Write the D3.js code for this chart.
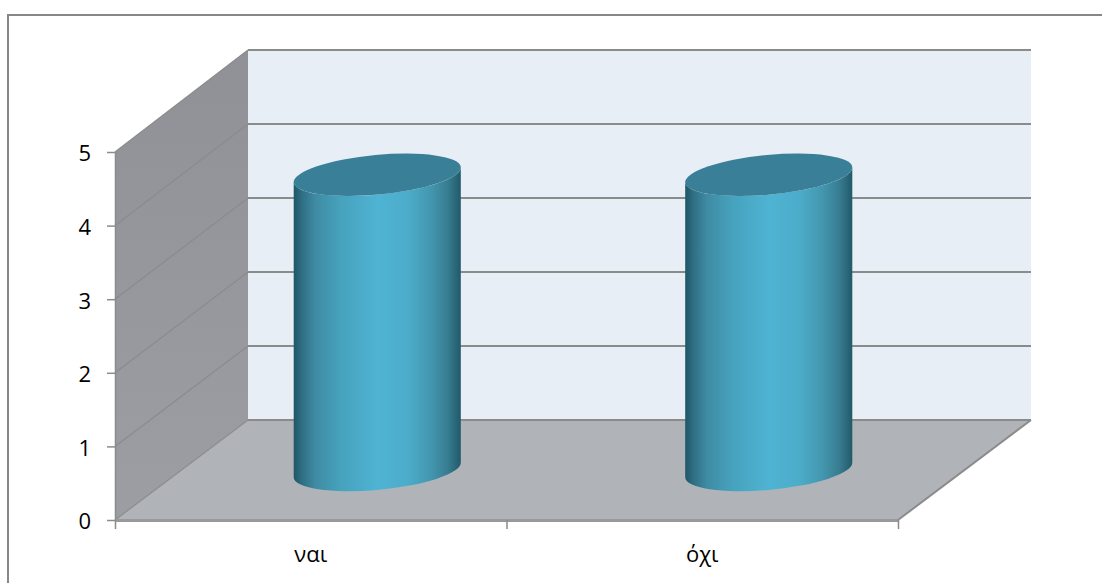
<!DOCTYPE html>
<html>
<head>
<meta charset="utf-8">
<script src="https://cdnjs.cloudflare.com/ajax/libs/d3/7.8.5/d3.min.js"></script>
<style>
  html, body { margin: 0; padding: 0; background: #fff; overflow: hidden; }
  text { font-family: "Open Sans", sans-serif; fill: #000; }
</style>
</head>
<body>
<script>
// Survey answers shown as 3D-style cylinders
const categories = ["ναι", "όχι"];
const counts = [4, 4];
const yTicks = [0, 1, 2, 3, 4, 5];

const width = 1102, height = 583;
const svg = d3.select("body").append("svg").attr("width", width).attr("height", height);

// Front plane scales, plus a back-wall scale for the receding box
const x = d3.scaleBand().domain(categories).range([115, 898]);
const xEdges = d3.scaleLinear().domain([0, categories.length]).range([115, 898]);
const yFront = d3.scaleLinear().domain([0, 5]).range([520, 152]);
const yBack = d3.scaleLinear().domain([0, 5]).range([420, 50]);
const depthX = 133;
// Bars stand halfway between the front plane and the back wall
const yMid = v => (yFront(v) + yBack(v)) / 2;
const barW = x.bandwidth() * 0.427;

const line = "#8b8b8b";
const defs = svg.append("defs");

const sideFill = defs.append("linearGradient").attr("id", "sideWall")
  .attr("x1", 0).attr("y1", 0).attr("x2", 0).attr("y2", 1);
sideFill.append("stop").attr("offset", 0).attr("stop-color", "#8f9196");
sideFill.append("stop").attr("offset", 1).attr("stop-color", "#9c9ea3");

const cyl = defs.append("linearGradient").attr("id", "cylinderSide")
  .attr("x1", 0).attr("y1", 0).attr("x2", 1).attr("y2", 0);
[[0, "#1f5666"], [0.05, "#2f6f84"], [0.13, "#3f8ba3"], [0.28, "#46a2bd"],
 [0.5, "#4fb3d3"], [0.68, "#4cadca"], [0.82, "#4397af"], [0.92, "#387d92"], [1, "#215a69"]]
  .forEach(([o, c]) => cyl.append("stop").attr("offset", o).attr("stop-color", c));

// Page frame, open to the right and bottom
svg.append("path").attr("fill", "none").attr("stroke", "#878787").attr("stroke-width", 2)
  .attr("d", `M8,${height}V15H${width}`);

// Back wall
svg.append("path").attr("fill", "#e8eef5")
  .attr("d", `M${x.range()[0] + depthX},${yBack(0)}V${yBack(5)}H${x.range()[1] + depthX}V${yBack(0)}Z`);

// Side wall
svg.append("path").attr("fill", "url(#sideWall)")
  .attr("d", `M${x.range()[0]},${yFront(0)}V${yFront(5)}L${x.range()[0] + depthX},${yBack(5)}V${yBack(0)}Z`);

// Floor
svg.append("path").attr("fill", "#b0b3b8")
  .attr("d", `M${x.range()[0]},${yFront(0)}L${x.range()[0] + depthX},${yBack(0)}H${x.range()[1] + depthX}L${x.range()[1]},${yFront(0)}Z`);

// Gridlines across both walls
const grid = svg.append("g").attr("fill", "none").attr("stroke", line);
grid.selectAll("path.side").data(yTicks).join("path").attr("class", "side")
  .attr("stroke-width", 1.2)
  .attr("d", d => `M${x.range()[0]},${yFront(d)}L${x.range()[0] + depthX},${yBack(d)}`);
grid.selectAll("path.back").data(yTicks).join("path").attr("class", "back")
  .attr("stroke-width", 2)
  .attr("d", d => `M${x.range()[0] + depthX},${yBack(d)}H${x.range()[1] + depthX}`);
grid.append("path").attr("stroke-width", 2)
  .attr("d", `M${x.range()[1]},${yFront(0)}L${x.range()[1] + depthX},${yBack(0)}`);

// Axes
const yAxis = svg.append("g").attr("transform", `translate(${x.range()[0]},0)`)
  .call(d3.axisLeft(yFront).tickValues(yTicks).tickFormat(d3.format("d")).tickSize(8).tickSizeOuter(0).tickPadding(16));
const xLine = svg.append("g").attr("transform", `translate(0,${yFront(0)})`)
  .call(d3.axisBottom(xEdges).tickValues(d3.range(categories.length + 1)).tickFormat("").tickSize(9).tickSizeOuter(0));
const xLabels = svg.append("g").attr("transform", `translate(0,${yFront(0)})`)
  .call(d3.axisBottom(x).tickSize(0).tickPadding(26));
xLabels.select(".domain").remove();
xLabels.selectAll(".tick text").attr("font-size", 22);
yAxis.selectAll(".tick text").attr("font-size", 22).attr("dy", "0.4em");
yAxis.selectAll("line, path").attr("stroke", line).attr("stroke-width", 1.5);
xLine.selectAll("line").attr("stroke", line).attr("stroke-width", 1.5);
xLine.selectAll("path").attr("stroke", "#999").attr("stroke-width", 3);

// Cylinders: a tilted ellipse on top, a shaded body below
const tilt = -5.3;
const rad = -tilt * Math.PI / 180;
const rx = barW / 2 + 0.3, ry = 19.8;
const halfW = Math.hypot(rx * Math.cos(rad), ry * Math.sin(rad));
const endDrop = (rx * rx - ry * ry) * Math.sin(rad) * Math.cos(rad) / halfW;

const bars = svg.append("g").selectAll("g").data(categories.map((c, i) => ({ c, v: counts[i] }))).join("g");
const cx = d => x(d.c) + x.bandwidth() / 2 + depthX / 2;

bars.append("path").attr("fill", "url(#cylinderSide)").attr("d", d => {
  const l = cx(d) - halfW, r = cx(d) + halfW;
  const top = yMid(d.v), base = yMid(0);
  return `M${l},${top + endDrop}L${l},${base + endDrop}` +
    `A${rx},${ry} ${tilt} 0 0 ${r},${base - endDrop}` +
    `L${r},${top - endDrop}A${rx},${ry} ${tilt} 0 1 ${l},${top + endDrop}Z`;
});
bars.append("ellipse")
  .attr("rx", rx).attr("ry", ry).attr("fill", "#3a7f98")
  .attr("transform", d => `translate(${cx(d)},${yMid(d.v)}) rotate(${tilt})`);
</script>
</body>
</html>
